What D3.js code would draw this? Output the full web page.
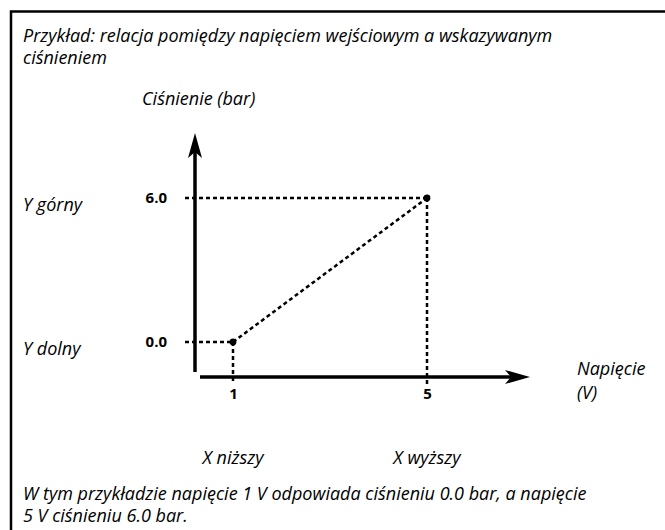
<!DOCTYPE html>
<html>
<head>
<meta charset="utf-8">
<script src="https://cdn.jsdelivr.net/npm/d3@7"></script>
<style>
  html, body { margin: 0; padding: 0; background: #fff; }
  svg { display: block; }
  .it { font-family: "Open Sans", sans-serif; font-style: italic; font-size: 18px; fill: #000; }
  .tick text { font-family: "Open Sans", sans-serif; font-weight: 700; font-size: 15px; fill: #000; }
</style>
</head>
<body>
<svg id="chart" width="665" height="530"></svg>
<script>
// Input voltage (V) and the pressure it maps to (bar)
const voltage = [1, 5];
const pressure = [0.0, 6.0];
const xTickLabels = ["1", "5"];
const yTickLabels = ["0.0", "6.0"];
const xNames = ["X niższy", "X wyższy"];
const yNames = ["Y dolny", "Y górny"];

const titleLines = [
  "Przykład: relacja pomiędzy napięciem wejściowym a wskazywanym",
  "ciśnieniem"
];
const footerLines = [
  "W tym przykładzie napięcie 1 V odpowiada ciśnieniu 0.0 bar, a napięcie",
  "5 V ciśnieniu 6.0 bar."
];
const yTitle = "Ciśnienie (bar)";
const xTitle = ["Napięcie", "(V)"];

const svg = d3.select("#chart");

const x = d3.scaleLinear().domain([1, 5]).range([233, 427]);
const y = d3.scaleLinear().domain([0, 6]).range([342, 198]);

// frame (top and left edges)
svg.append("path")
  .attr("d", "M11,530 L11,11.5 L665,11.5")
  .attr("fill", "none")
  .attr("stroke", "#000")
  .attr("stroke-width", 2.5);

// title and footer text
svg.append("g").selectAll("text").data(titleLines).join("text")
  .attr("class", "it").attr("x", 23).attr("y", (d, i) => 42 + i * 22).text(d => d);
svg.append("g").selectAll("text").data(footerLines).join("text")
  .attr("class", "it").attr("x", 23).attr("y", (d, i) => 500 + i * 22).text(d => d);

// axis lines with arrowheads
const axisX0 = 195, axisY0 = 377;
const ax = svg.append("g");
ax.append("line").attr("x1", axisX0).attr("y1", 372).attr("x2", axisX0).attr("y2", 150)
  .attr("stroke", "#000").attr("stroke-width", 3.5);
ax.append("path").attr("d", `M${axisX0},133 L${axisX0 + 7},158 L${axisX0},152 L${axisX0 - 7},158 Z`).attr("fill", "#000");
ax.append("line").attr("x1", 200).attr("y1", axisY0).attr("x2", 515).attr("y2", axisY0)
  .attr("stroke", "#000").attr("stroke-width", 3.5);
ax.append("path").attr("d", `M530,${axisY0} L505,${axisY0 - 7} L511,${axisY0} L505,${axisY0 + 7} Z`).attr("fill", "#000");

// dashed guides from each point to the axes
const pts = voltage.map((v, i) => ({ v, p: pressure[i] }));
const guides = svg.append("g").attr("stroke", "#000").attr("stroke-width", 2.5)
  .attr("stroke-dasharray", "4,3").attr("fill", "none");
guides.selectAll("line.h").data(pts).join("line").attr("class", "h")
  .attr("x1", 185).attr("x2", d => x(d.v)).attr("y1", d => y(d.p)).attr("y2", d => y(d.p));
guides.selectAll("line.v").data(pts).join("line").attr("class", "v")
  .attr("x1", d => x(d.v)).attr("x2", d => x(d.v)).attr("y1", d => y(d.p)).attr("y2", 384);
guides.append("path")
  .attr("d", d3.line().x(d => x(d.v)).y(d => y(d.p))(pts));

svg.append("g").selectAll("circle").data(pts).join("circle")
  .attr("cx", d => x(d.v)).attr("cy", d => y(d.p)).attr("r", 3.4).attr("fill", "#000");

// tick labels through d3 axes
const yAxis = d3.axisLeft(y).tickValues(pressure).tickSize(0).tickPadding(0)
  .tickFormat((d, i) => yTickLabels[i]);
svg.append("g").attr("transform", "translate(167,0)").call(yAxis)
  .call(g => g.select(".domain").remove())
  .selectAll("text").attr("dy", "0.3em");
const xAxis = d3.axisBottom(x).tickValues(voltage).tickSize(0).tickPadding(0)
  .tickFormat((d, i) => xTickLabels[i]);
svg.append("g").attr("transform", "translate(0,388)").call(xAxis)
  .call(g => g.select(".domain").remove())
  .selectAll("text").attr("dy", "0.71em");

// names of the end points
svg.append("g").selectAll("text").data(pts).join("text")
  .attr("class", "it").attr("x", 23).attr("y", d => y(d.p) + 13)
  .text((d, i) => yNames[i]);
svg.append("g").selectAll("text").data(pts).join("text")
  .attr("class", "it").attr("x", d => x(d.v)).attr("y", 464).attr("text-anchor", "middle")
  .text((d, i) => xNames[i]);

// axis titles
svg.append("text").attr("class", "it").attr("x", 142).attr("y", 105).text(yTitle);
svg.append("g").selectAll("text").data(xTitle).join("text")
  .attr("class", "it").attr("x", 577).attr("y", (d, i) => 375 + i * 24).text(d => d);
</script>
</body>
</html>
